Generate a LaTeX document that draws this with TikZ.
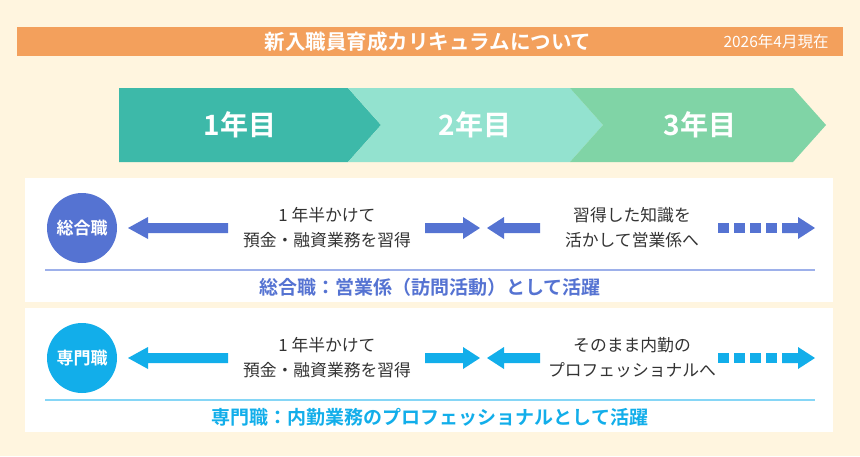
\documentclass[tikz,border=0pt]{standalone}
\usepackage{fontspec}
\setmainfont{Noto Sans CJK JP}
\newfontfamily\jpb{Noto Sans CJK JP Bold}
\begin{document}
\begin{tikzpicture}[x=1pt,y=-1pt,
  txt/.style={font=\fontsize{16.8}{25}\selectfont,color=black!80,align=center},
  hd/.style={font=\jpb\fontsize{28}{30}\selectfont,text=white},
  circ/.style={circle,minimum size=70pt,inner sep=0pt,font=\jpb\fontsize{17}{19}\selectfont,text=white},
  foot/.style={font=\jpb\fontsize{19}{21}\selectfont}]
\definecolor{bg}{HTML}{FFF5DF}
\definecolor{org}{HTML}{F3A05C}
\definecolor{c1}{HTML}{3DB9A9}
\definecolor{c2}{HTML}{93E2CF}
\definecolor{c3}{HTML}{80D4A6}
\definecolor{blu}{HTML}{5573D2}
\definecolor{lblu}{HTML}{9DB0EA}
\definecolor{sky}{HTML}{12AEEA}
\definecolor{lsky}{HTML}{86D6F6}
\fill[bg] (0,0) rectangle (860,456);
\useasboundingbox (0,0) rectangle (860,456);
\fill[org] (17,27) rectangle (843,56);
\node[font=\jpb\fontsize{20.5}{22}\selectfont,text=white] (title) at (428,41.5) {新入職員育成カリキュラムについて};
\node[font=\fontsize{15.5}{17}\selectfont,text=white] (date) at (776,41.5) {2026年4月現在};
% chevrons
\fill[c1] (119,88) -- (348,88) -- (381,125) -- (348,162) -- (119,162) -- cycle;
\fill[c2] (348,88) -- (570,88) -- (603,125) -- (570,162) -- (348,162) -- (381,125) -- cycle;
\fill[c3] (570,88) -- (793,88) -- (826,125) -- (793,162) -- (570,162) -- (603,125) -- cycle;
\node[hd] (y1) at (240,125) {1年目};
\node[hd] (y2) at (475,125) {2年目};
\node[hd] (y3) at (700,125) {3年目};
% rows
\foreach \yy/\cc/\ll/\nm/\tb/\ft [count=\i] in {
  228/blu/lblu/総合職/{習得した知識を\\活かして営業係へ}/{総合職：営業係（訪問活動）として活躍},
  358/sky/lsky/専門職/{そのまま内勤の\\プロフェッショナルへ}/{専門職：内勤業務のプロフェッショナルとして活躍}}{
  \fill[white] (25,\yy-50) rectangle (833,\yy+74);
  \node[circ,fill=\cc] (r\i) at (82,\yy) {\nm};
  \fill[\cc] (228,\yy-5) -- (148,\yy-5) -- (148,\yy-11) -- (128,\yy) -- (148,\yy+11) -- (148,\yy+5) -- (228,\yy+5) -- cycle;
  \node[txt] (a\i) at (327,\yy) {1 年半かけて\\預金・融資業務を習得};
  \fill[\cc] (425,\yy-5) -- (463,\yy-5) -- (463,\yy-11) -- (480,\yy) -- (463,\yy+11) -- (463,\yy+5) -- (425,\yy+5) -- cycle;
  \fill[\cc] (540,\yy-5) -- (504,\yy-5) -- (504,\yy-11) -- (487,\yy) -- (504,\yy+11) -- (504,\yy+5) -- (540,\yy+5) -- cycle;
  \node[txt] (b\i) at (632,\yy) {\tb};
  \foreach \k in {0,1,2,3} {\fill[\cc] (718+\k*16,\yy-5) rectangle (729+\k*16,\yy+5);}
  \fill[\cc] (782,\yy-5) -- (798,\yy-5) -- (798,\yy-11) -- (815,\yy) -- (798,\yy+11) -- (798,\yy+5) -- (782,\yy+5) -- cycle;
  \draw[\ll,line width=1.5pt] (45,\yy+42) -- (815,\yy+42);
  \node[foot,text=\cc] (f\i) at (430,\yy+59) {\ft};
}
\end{tikzpicture}
\end{document}
